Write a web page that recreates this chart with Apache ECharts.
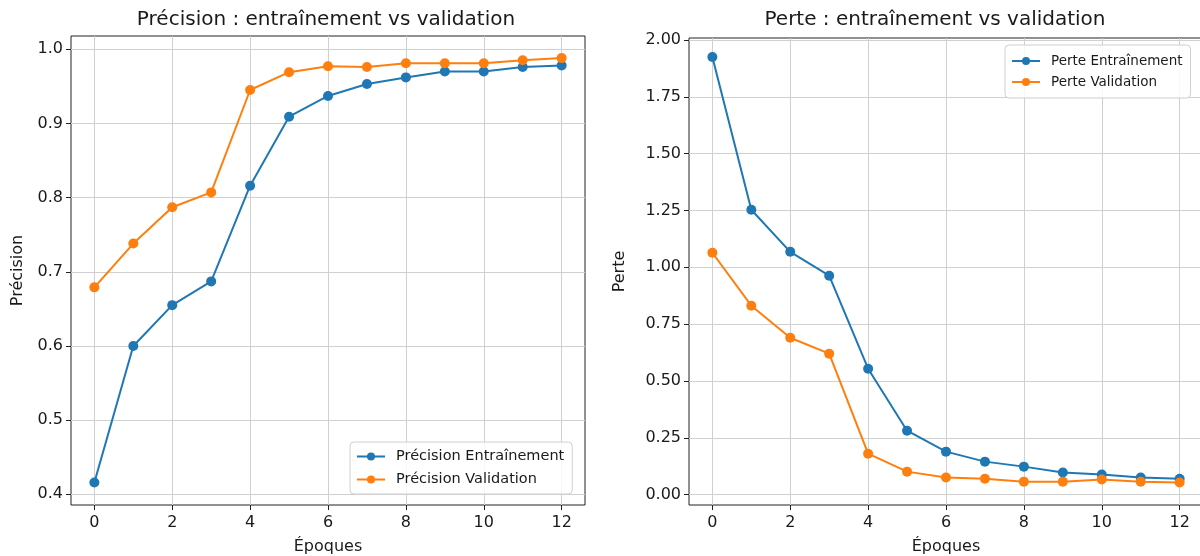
<!DOCTYPE html>
<html>
<head>
<meta charset="utf-8">
<script src="https://cdn.jsdelivr.net/npm/echarts@6/dist/echarts.min.js"></script>
<style>html,body{margin:0;padding:0;background:#fff}#c{width:1200px;height:556px}</style>
</head>
<body>
<div id="c"></div>
<script>
const epochs = [0,1,2,3,4,5,6,7,8,9,10,11,12];
const accTrain = [0.416,0.600,0.655,0.687,0.816,0.909,0.937,0.953,0.962,0.970,0.970,0.976,0.978];
const accVal   = [0.679,0.738,0.787,0.807,0.945,0.969,0.977,0.976,0.981,0.981,0.981,0.985,0.988];
const lossTrain = [1.925,1.253,1.068,0.963,0.554,0.281,0.189,0.145,0.123,0.097,0.088,0.075,0.070];
const lossVal   = [1.064,0.831,0.690,0.620,0.180,0.101,0.075,0.070,0.057,0.057,0.066,0.057,0.053];
const xTicks = [0,2,4,6,8,10,12];
const accTicks = [0.4,0.5,0.6,0.7,0.8,0.9,1.0];
const lossTicks = [0,0.25,0.5,0.75,1.0,1.25,1.5,1.75,2.0];
const names = ['Précision Entraînement','Précision Validation','Perte Entraînement','Perte Validation'];
const titles = ['Précision : entraînement vs validation','Perte : entraînement vs validation'];

const BLUE = '#1f77b4', ORANGE = '#ff7f0e';
const FONT = 'DejaVu Sans';
const TXT = '#1a1a1a';
const pair = v => epochs.map((e,i)=>[e,v[i]]);

function xAxis(gi){
  return {
    type:'value', gridIndex:gi, min:-0.6, max:12.6,
    name:'Époques', nameLocation:'middle', nameGap:34,
    nameTextStyle:{fontFamily:FONT,fontSize:16,color:TXT},
    axisLine:{show:false,onZero:false},
    axisTick:{show:true,length:5,customValues:xTicks,lineStyle:{color:'#222',width:1}},
    axisLabel:{customValues:xTicks,fontFamily:FONT,fontSize:16,color:TXT,margin:10},
    splitLine:{show:true,lineStyle:{color:'#d0d0d0',width:1}}
  };
}
function yAxis(gi,min,max,ticks,dec,name,gap){
  return {
    type:'value', gridIndex:gi, min:min, max:max,
    name:name, nameLocation:'middle', nameGap:gap, nameRotate:90,
    nameTextStyle:{fontFamily:FONT,fontSize:16,color:TXT},
    axisLine:{show:false,onZero:false},
    axisTick:{show:true,length:5,customValues:ticks,lineStyle:{color:'#222',width:1}},
    axisLabel:{customValues:ticks,fontFamily:FONT,fontSize:16,color:TXT,margin:8,
      formatter:v=>v.toFixed(dec)},
    splitLine:{show:true,lineStyle:{color:'#d0d0d0',width:1}}
  };
}
function series(name,data,color,gi){
  return {
    type:'line', name:name, data:pair(data), xAxisIndex:gi, yAxisIndex:gi,
    symbol:'circle', symbolSize:10, showSymbol:true,
    itemStyle:{color:color}, lineStyle:{color:color,width:2},
    emphasis:{disabled:true}, animation:false, clip:false
  };
}
function legend(data,left,top,fs,gap,pad){
  return {
    data:data, orient:'vertical', left:left, top:top,
    backgroundColor:'rgba(255,255,255,0.85)', borderColor:'#d0d0d0', borderWidth:1, borderRadius:4,
    padding:[pad,8,pad,6], itemWidth:28, itemHeight:10, itemGap:gap,
    textStyle:{fontFamily:FONT,fontSize:fs,color:TXT,padding:[0,0,0,6]}
  };
}

const chart = echarts.init(document.getElementById('c'));
chart.setOption({
  animation:false,
  backgroundColor:'#fff',
  title:[
    {text:titles[0], left:321, top:5, textAlign:'center', textStyle:{fontFamily:FONT,fontSize:20,fontWeight:'normal',color:TXT}},
    {text:titles[1], left:930, top:5, textAlign:'center', textStyle:{fontFamily:FONT,fontSize:20,fontWeight:'normal',color:TXT}}
  ],
  grid:[
    {left:71, top:36, width:514, height:469, show:true, borderColor:'#222', borderWidth:1, backgroundColor:'transparent', outerBoundsMode:'none', containLabel:false},
    {left:689, top:38, width:514, height:467, show:true, borderColor:'#222', borderWidth:1, backgroundColor:'transparent', outerBoundsMode:'none', containLabel:false}
  ],
  xAxis:[xAxis(0), xAxis(1)],
  yAxis:[
    yAxis(0,0.3856,1.0178,accTicks,1,'Précision',45),
    yAxis(1,-0.0458,2.0088,lossTicks,2,'Perte',61)
  ],
  legend:[
    legend([names[0],names[1]],350,442,14.5,8,7),
    legend([names[2],names[3]],1005,45,13.5,7,9)
  ],
  series:[
    series(names[0],accTrain,BLUE,0),
    series(names[1],accVal,ORANGE,0),
    series(names[2],lossTrain,BLUE,1),
    series(names[3],lossVal,ORANGE,1)
  ]
});
</script>
</body>
</html>
